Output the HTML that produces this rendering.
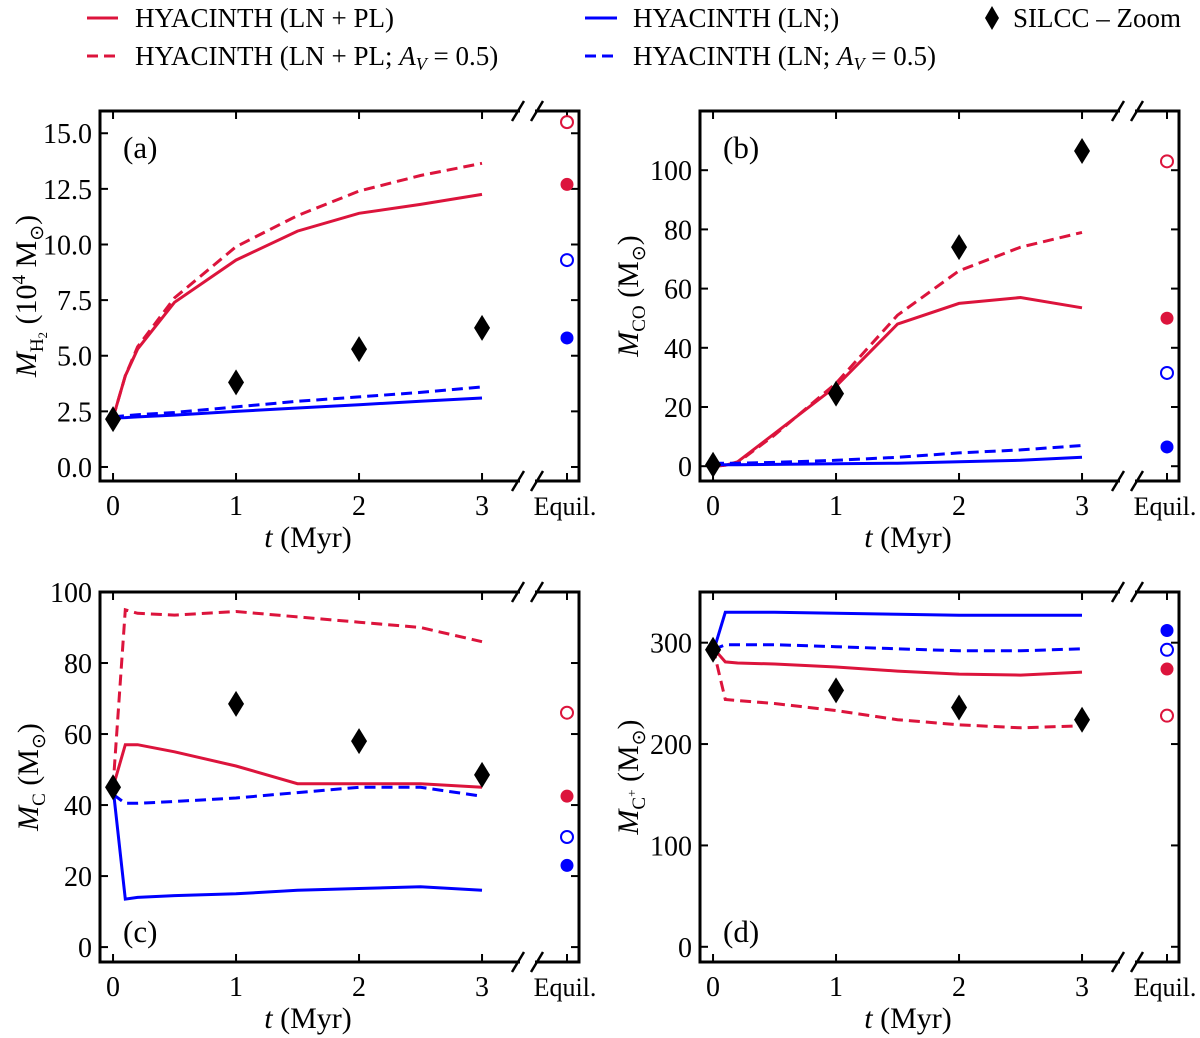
<!DOCTYPE html>
<html><head><meta charset="utf-8"><style>
html,body{margin:0;padding:0;background:#fff;}
svg{display:block;font-family:"Liberation Serif",serif;}
</style></head><body>
<svg id="fig" width="1200" height="1038" viewBox="0 0 1200 1038" xmlns="http://www.w3.org/2000/svg">
<g id="legend">
  <g><line x1="87" y1="18" x2="118" y2="18" stroke="#dc143c" stroke-width="3"/><text x="135" y="27" font-size="27">HYACINTH (LN + PL)</text></g>
  <g><line x1="87" y1="56" x2="118" y2="56" stroke="#dc143c" stroke-width="3" stroke-dasharray="11,6"/><text x="135" y="65" font-size="27">HYACINTH (LN + PL; <tspan font-style="italic">A</tspan><tspan font-style="italic" font-size="18" dy="5">V</tspan><tspan dy="-5"> = 0.5)</tspan></text></g>
  <g><line x1="585" y1="18" x2="617" y2="18" stroke="#0000ff" stroke-width="3"/><text x="633" y="27" font-size="27">HYACINTH (LN;)</text></g>
  <g><line x1="585" y1="56" x2="617" y2="56" stroke="#0000ff" stroke-width="3" stroke-dasharray="11,6"/><text x="633" y="65" font-size="27">HYACINTH (LN; <tspan font-style="italic">A</tspan><tspan font-style="italic" font-size="18" dy="5">V</tspan><tspan dy="-5"> = 0.5)</tspan></text></g>
  <g><polygon points="992,6 999,18 992,30 985,18" fill="#000"/><text x="1013" y="27" font-size="27">SILCC – Zoom</text></g>
</g>
</svg>
<script>
const tLine = [0, 0.1, 0.2, 0.5, 1, 1.5, 2, 2.5, 3];
const tSim = [0, 1, 2, 3];
// panel a: H2 (1e4 Msun)
const aRedSolid = [2.2, 4.1, 5.3, 7.4, 9.3, 10.6, 11.4, 11.8, 12.25];
const aRedDash = [2.2, 4.1, 5.4, 7.6, 9.9, 11.3, 12.4, 13.1, 13.65];
const aBlueSolid = [2.2, 2.22, 2.25, 2.33, 2.5, 2.65, 2.8, 2.95, 3.1];
const aBlueDash = [2.25, 2.3, 2.35, 2.45, 2.7, 2.95, 3.15, 3.35, 3.6];
const aSim = [2.15, 3.8, 5.3, 6.25];
const aEq = [15.5, 12.7, 9.3, 5.8]; // red open, red filled, blue open, blue filled
const aTicks = [0, 2.5, 5, 7.5, 10, 12.5, 15];
const aTickLabels = ["0.0", "2.5", "5.0", "7.5", "10.0", "12.5", "15.0"];
// panel b: CO
const bRedSolid = [0, 0.3, 1.5, 11, 27, 48, 55, 57, 53.5];
const bRedDash = [0, 0.3, 1.2, 10.5, 28, 51, 66, 74, 79];
const bBlueSolid = [0.5, 0.5, 0.5, 0.6, 0.8, 1, 1.5, 2, 3];
const bBlueDash = [1, 1, 1, 1.3, 2, 3, 4.5, 5.5, 7];
const bSim = [0.5, 24.5, 74, 106.5];
const bEq = [103, 50, 31.5, 6.5];
const bTicks = [0, 20, 40, 60, 80, 100];
const bTickLabels = ["0", "20", "40", "60", "80", "100"];
// panel c: C
const cRedSolid = [45, 57, 57, 55, 51, 46, 46, 46, 45];
const cRedDash = [45, 95, 94, 93.5, 94.5, 93, 91.5, 90, 86];
const cBlueSolid = [45, 13.5, 14, 14.5, 15, 16, 16.5, 17, 16];
const cBlueDash = [43, 40.5, 40.5, 41, 42, 43.5, 45, 45, 42.5];
const cSim = [45, 68.5, 58, 48.5];
const cEq = [66, 42.5, 31, 23];
const cTicks = [0, 20, 40, 60, 80, 100];
const cTickLabels = ["0", "20", "40", "60", "80", "100"];
// panel d: C+
const dRedSolid = [295, 281, 280, 279, 276, 272, 269, 268, 271];
const dRedDash = [295, 244, 243, 240, 233, 224, 219, 216, 218];
const dBlueSolid = [290, 330, 330, 330, 329, 328, 327, 327, 327];
const dBlueDash = [293, 298, 298, 298, 296, 294, 292, 292, 294];
const dSim = [293, 253, 236, 224];
const dEq = [228, 274, 293, 312];
const dTicks = [0, 100, 200, 300];
const dTickLabels = ["0", "100", "200", "300"];
const xTicks = [0, 1, 2, 3];
const xTickLabels = ["0", "1", "2", "3"];

const NS = "http://www.w3.org/2000/svg";
const fig = document.getElementById('fig');
function mk(tag, attrs, parent) {
  const e = document.createElementNS(NS, tag);
  for (const k in attrs) e.setAttribute(k, attrs[k]);
  parent.appendChild(e);
  return e;
}
const RED = "#dc143c", BLUE = "#0000ff";

function panel(cfg) {
  const ox = cfg.ox, oy = cfg.oy;
  const L = ox + 100, T = oy + 111, B = oy + 481, R = ox + 579;
  const brkL = ox + 520, brkR = ox + 535, eqX = ox + 567;
  const x = t => L + (t + 0.106) * 123;
  const y = v => B - (v - cfg.ymin) / (cfg.ymax - cfg.ymin) * (B - T);
  const g = mk('g', {}, fig);
  
  

  xTicks.forEach((t, i) => {
    const tk = mk('g', {}, g);
    
    
    mk('line', {x1: x(t), y1: B, x2: x(t), y2: B - 8, stroke: '#000', 'stroke-width': 2}, tk);
    mk('line', {x1: x(t), y1: T, x2: x(t), y2: T + 8, stroke: '#000', 'stroke-width': 2}, tk);
    const tx = mk('text', {x: x(t), y: B + 34, 'font-size': 28, 'text-anchor': 'middle'}, tk);
    tx.textContent = xTickLabels[i];
  });
  cfg.ticks.forEach((v, i) => {
    const tk = mk('g', {}, g);
    
    
    mk('line', {x1: L, y1: y(v), x2: L + 8, y2: y(v), stroke: '#000', 'stroke-width': 2}, tk);
    mk('line', {x1: R, y1: y(v), x2: R - 8, y2: y(v), stroke: '#000', 'stroke-width': 2}, tk);
    const tx = mk('text', {x: L - 8, y: y(v) + 10, 'font-size': 28, 'text-anchor': 'end'}, tk);
    tx.textContent = cfg.tickLabels[i];
  });
  mk('line', {x1: eqX, y1: B, x2: eqX, y2: B - 8, stroke: '#000', 'stroke-width': 2}, g);
  mk('line', {x1: eqX, y1: T, x2: eqX, y2: T + 8, stroke: '#000', 'stroke-width': 2}, g);

  const sp = mk('path', {d: `M${brkL},${T} L${L},${T} L${L},${B} L${brkL},${B} M${brkR},${T} L${R},${T} L${R},${B} L${brkR},${B}`, fill: 'none', stroke: '#000', 'stroke-width': 3}, g);
  
  
  [T, B].forEach(yy => {
    const bk = mk('path', {d: `M${brkL - 8},${yy + 10} L${brkL + 4},${yy - 10} M${brkR - 4},${yy + 10} L${brkR + 8},${yy - 10}`, stroke: '#000', 'stroke-width': 2.5, fill: 'none'}, g);
    
    
  });
  const eql = mk('text', {x: eqX - 2, y: B + 34, 'font-size': 26, 'text-anchor': 'middle'}, g);
  eql.textContent = 'Equil.';
  
  

  const series = [
    [cfg.redSolid, RED, null, 'red-solid-line'],
    [cfg.redDash, RED, '11,6', 'red-dashed-line'],
    [cfg.blueSolid, BLUE, null, 'blue-solid-line'],
    [cfg.blueDash, BLUE, '11,6', 'blue-dashed-line']
  ];
  series.forEach(s => {
    const pts = tLine.map((t, i) => x(t).toFixed(1) + ',' + y(s[0][i]).toFixed(1)).join(' ');
    const pl = mk('polyline', {points: pts, fill: 'none', stroke: s[1], 'stroke-width': 3}, g);
    if (s[2]) pl.setAttribute('stroke-dasharray', s[2]);
    
    
  });
  tSim.forEach((t, i) => {
    const cx = x(t), cy = y(cfg.sim[i]);
    const d = mk('polygon', {points: `${cx},${cy - 13} ${cx + 8},${cy} ${cx},${cy + 13} ${cx - 8},${cy}`, fill: '#000'}, g);
    
    
  });
  cfg.eq.forEach((v, i) => {
    const st = cfg.eqOrder[i];
    const c = mk('circle', {cx: eqX, cy: y(v), r: st[1] ? 6.5 : 6, fill: st[1] ? st[0] : '#fff', stroke: st[0], 'stroke-width': st[1] ? 0 : 2}, g);
    
    
  });

  const pl = mk('text', {x: L + 23, y: cfg.labelBottom ? B - 20 : T + 47, 'font-size': 31}, g);
  pl.textContent = cfg.letter;
  
  
  const xl = mk('text', {x: ox + 308, y: oy + 547, 'font-size': 30, 'text-anchor': 'middle'}, g);
  xl.innerHTML = '<tspan font-style="italic">t</tspan> (Myr)';
  
  
  const yl = mk('text', {x: 0, y: 0, 'font-size': 30, 'text-anchor': 'middle', transform: `translate(${ox + cfg.ylx},${oy + 296}) rotate(-90)`}, g);
  yl.innerHTML = cfg.ylabel;
  
  
}

const ro = [RED, false], rf = [RED, true], bo = [BLUE, false], bf = [BLUE, true];
panel({ox: 0, oy: 0, name: 'panel-a-h2', letter: '(a)', ymin: -0.63, ymax: 16, ticks: aTicks, tickLabels: aTickLabels,
  redSolid: aRedSolid, redDash: aRedDash, blueSolid: aBlueSolid, blueDash: aBlueDash, sim: aSim, eq: aEq, eqOrder: [ro, rf, bo, bf],
  ylx: 36, ylabel: '<tspan font-style="italic">M</tspan><tspan font-size="19" dy="7">H</tspan><tspan font-size="13" dy="4">2</tspan><tspan dy="-11"> (10</tspan><tspan font-size="19" dy="-11">4</tspan><tspan dy="11"> M</tspan><tspan font-size="19" dy="7">⊙</tspan><tspan dy="-7">)</tspan>'});
panel({ox: 600, oy: 0, name: 'panel-b-co', letter: '(b)', ymin: -5, ymax: 120, ticks: bTicks, tickLabels: bTickLabels,
  redSolid: bRedSolid, redDash: bRedDash, blueSolid: bBlueSolid, blueDash: bBlueDash, sim: bSim, eq: bEq, eqOrder: [ro, rf, bo, bf],
  ylx: 38, ylabel: '<tspan font-style="italic">M</tspan><tspan font-size="19" dy="7">CO</tspan><tspan dy="-7"> (M</tspan><tspan font-size="19" dy="7">⊙</tspan><tspan dy="-7">)</tspan>'});
panel({ox: 0, oy: 481, name: 'panel-c-c', letter: '(c)', labelBottom: true, ymin: -4.2, ymax: 100, ticks: cTicks, tickLabels: cTickLabels,
  redSolid: cRedSolid, redDash: cRedDash, blueSolid: cBlueSolid, blueDash: cBlueDash, sim: cSim, eq: cEq, eqOrder: [ro, rf, bo, bf],
  ylx: 38, ylabel: '<tspan font-style="italic">M</tspan><tspan font-size="19" dy="7">C</tspan><tspan dy="-7"> (M</tspan><tspan font-size="19" dy="7">⊙</tspan><tspan dy="-7">)</tspan>'});
panel({ox: 600, oy: 481, name: 'panel-d-cplus', letter: '(d)', labelBottom: true, ymin: -15, ymax: 350, ticks: dTicks, tickLabels: dTickLabels,
  redSolid: dRedSolid, redDash: dRedDash, blueSolid: dBlueSolid, blueDash: dBlueDash, sim: dSim, eq: dEq, eqOrder: [ro, rf, bo, bf],
  ylx: 38, ylabel: '<tspan font-style="italic">M</tspan><tspan font-size="19" dy="7">C</tspan><tspan font-size="13" dy="-9">+</tspan><tspan dy="2"> (M</tspan><tspan font-size="19" dy="7">⊙</tspan><tspan dy="-7">)</tspan>'});
</script>
</body></html>
